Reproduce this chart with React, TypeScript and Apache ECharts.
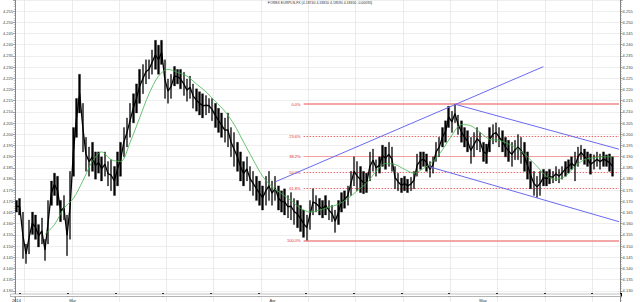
import React, { useEffect, useRef } from 'react';
import * as echarts from 'echarts';

const TITLE = 'FOREX EURPLN-FX (4.18740 4.18810 4.18590 4.18650 -0.00090)';

// 8-hour bars, Fri 21 Feb 2014 .. Wed 21 May 2014 (192 slots, 190 with data)
const BAR_COUNT = 192;

const highs = [
  4.1704, 4.1713, 4.1652, 4.1509, 4.1617, 4.1652, 4.1639, 4.1596, 4.1626, 4.1530,
  4.1704, 4.1791, 4.1826, 4.1812, 4.1704, 4.1726, 4.1639, 4.1834, 4.2030, 4.2160,
  4.2268, 4.2138, 4.1986, 4.1943, 4.1964, 4.1921, 4.1921, 4.1899, 4.1921, 4.1878,
  4.1886, 4.1856, 4.1921, 4.1964, 4.2030, 4.2073, 4.2138, 4.2181, 4.2225, 4.2290,
  4.2312, 4.2333, 4.2333, 4.2377, 4.2420, 4.2398, 4.2420, 4.2333, 4.2247, 4.2268,
  4.2303, 4.2290, 4.2290, 4.2277, 4.2247, 4.2260, 4.2225, 4.2203, 4.2190, 4.2181,
  4.2173, 4.2160, 4.2160, 4.2138, 4.2116, 4.2095, 4.2073, 4.2095, 4.2030, 4.2008,
  4.1964, 4.1921, 4.1878, 4.1899, 4.1856, 4.1834, 4.1812, 4.1791, 4.1769, 4.1812,
  4.1834, 4.1791, 4.1812, 4.1769, 4.1747, 4.1756, 4.1726, 4.1739, 4.1713, 4.1704,
  4.1682, 4.1661, 4.1639, 4.1704, 4.1756, 4.1726, 4.1713, 4.1704, 4.1726, 4.1704,
  4.1682, 4.1661, 4.1704, 4.1739, 4.1747, 4.1769, 4.1834, 4.1899, 4.1878, 4.1856,
  4.1834, 4.1826, 4.1921, 4.1934, 4.1886, 4.1899, 4.1951, 4.1943, 4.1964, 4.1943,
  4.1856, 4.1826, 4.1804, 4.1812, 4.1799, 4.1808, 4.1834, 4.1912, 4.1921, 4.1921,
  4.1912, 4.1878, 4.1899, 4.1964, 4.1986, 4.2030, 4.2060, 4.2125, 4.2103, 4.2134,
  4.2086, 4.2060, 4.2030, 4.2016, 4.1986, 4.2008, 4.2030, 4.2008, 4.1964, 4.1956,
  4.2030, 4.2043, 4.2051, 4.2030, 4.2016, 4.1986, 4.1973, 4.1964, 4.1973, 4.1999,
  4.1986, 4.1964, 4.1921, 4.1878, 4.1834, 4.1812, 4.1834, 4.1843, 4.1834, 4.1843,
  4.1834, 4.1856, 4.1843, 4.1856, 4.1878, 4.1886, 4.1899, 4.1921, 4.1943, 4.1951,
  4.1934, 4.1921, 4.1912, 4.1908, 4.1921, 4.1912, 4.1921, 4.1908, 4.1912, 4.1899,
];

const lows = [
  4.1652, 4.1639, 4.1444, 4.1422, 4.1465, 4.1552, 4.1530, 4.1496, 4.1509, 4.1435,
  4.1509, 4.1682, 4.1726, 4.1682, 4.1609, 4.1617, 4.1457, 4.1530, 4.1812, 4.1986,
  4.2095, 4.1921, 4.1834, 4.1812, 4.1834, 4.1799, 4.1826, 4.1791, 4.1812, 4.1769,
  4.1747, 4.1726, 4.1769, 4.1812, 4.1899, 4.1943, 4.1986, 4.2051, 4.2095, 4.2138,
  4.2181, 4.2225, 4.2247, 4.2268, 4.2290, 4.2268, 4.2312, 4.2160, 4.2138, 4.2160,
  4.2216, 4.2225, 4.2203, 4.2173, 4.2147, 4.2160, 4.2116, 4.2103, 4.2086, 4.2073,
  4.2086, 4.2095, 4.2060, 4.2030, 4.2008, 4.1986, 4.1964, 4.1943, 4.1899, 4.1856,
  4.1834, 4.1791, 4.1769, 4.1791, 4.1747, 4.1726, 4.1704, 4.1682, 4.1661, 4.1682,
  4.1704, 4.1682, 4.1704, 4.1661, 4.1652, 4.1639, 4.1626, 4.1617, 4.1596, 4.1582,
  4.1565, 4.1539, 4.1526, 4.1574, 4.1639, 4.1652, 4.1639, 4.1626, 4.1639, 4.1617,
  4.1609, 4.1561, 4.1596, 4.1652, 4.1669, 4.1682, 4.1726, 4.1769, 4.1747, 4.1739,
  4.1734, 4.1739, 4.1791, 4.1834, 4.1812, 4.1826, 4.1856, 4.1843, 4.1856, 4.1834,
  4.1756, 4.1747, 4.1739, 4.1747, 4.1739, 4.1747, 4.1756, 4.1812, 4.1843, 4.1856,
  4.1834, 4.1808, 4.1826, 4.1878, 4.1899, 4.1943, 4.1964, 4.2030, 4.2008, 4.2051,
  4.1999, 4.1964, 4.1943, 4.1921, 4.1869, 4.1899, 4.1930, 4.1921, 4.1878, 4.1869,
  4.1921, 4.1956, 4.1964, 4.1943, 4.1921, 4.1899, 4.1878, 4.1856, 4.1886, 4.1886,
  4.1869, 4.1834, 4.1799, 4.1756, 4.1726, 4.1717, 4.1726, 4.1769, 4.1769, 4.1778,
  4.1782, 4.1791, 4.1782, 4.1799, 4.1812, 4.1826, 4.1843, 4.1791, 4.1856, 4.1886,
  4.1865, 4.1856, 4.1821, 4.1843, 4.1856, 4.1843, 4.1856, 4.1856, 4.1834, 4.1812,
];

// moving average, one value per trading day
const maStart = 9;
const maStep = 3;
const maValues = [
  4.1552, 4.1596, 4.1669, 4.1713, 4.1791, 4.1878, 4.1921, 4.1886, 4.1878, 4.1964,
  4.2073, 4.2181, 4.2260, 4.2290, 4.2277, 4.2260, 4.2225, 4.2190, 4.2147, 4.2103,
  4.2043, 4.1964, 4.1886, 4.1812, 4.1765, 4.1734, 4.1704, 4.1669, 4.1652, 4.1661,
  4.1674, 4.1687, 4.1713, 4.1747, 4.1782, 4.1834, 4.1869, 4.1865, 4.1843, 4.1826,
  4.1847, 4.1878, 4.1930, 4.1995, 4.2043, 4.2038, 4.2008, 4.1977, 4.1973, 4.1956,
  4.1934, 4.1899, 4.1856, 4.1812, 4.1799, 4.1812, 4.1856, 4.1886, 4.1895, 4.1899,
  4.1899,
];

const monthLabels = ['2014', 'Mar', 'Apr', 'May'];
const monthStarts = [0, 18, 81, 147];
const weekStarts = [3, 18, 33, 48, 63, 78, 93, 108, 123, 138, 153, 168, 183];

const yMin = 4.125;
const yMax = 4.26;
const yStep = 0.005;
const yLabelMin = 4.13;
const yLabelMax = 4.255;

const trendLines = [
  { from: [82, 4.1787], to: [167, 4.2302] },
  { from: [139, 4.2134], to: [191, 4.1933] },
  { from: [131, 4.1854], to: [191, 4.1609] },
];

const fibHigh = 4.2134;
const fibLow = 4.1526;
const fibRatios = [0, 0.236, 0.382, 0.5, 0.618, 1];
const fibNames = ['0.0%', '23.6%', '38.2%', '50.0%', '61.8%', '100.0%'];
const fibStart = 91;
const fibEnd = 191;

const FONT = 'Liberation Sans, Arial, sans-serif';

export default function App() {
  const ref = useRef<HTMLDivElement>(null);

  useEffect(() => {
    const chart = echarts.init(ref.current!, null, { renderer: 'svg' });
    const cats = Array.from({ length: BAR_COUNT }, (_, i) => String(i));
    const candles = highs.map((h, i) => [lows[i], h, lows[i], h]);
    // path through the middle of each bar's range, joining the bars
    const midPath = highs.map((h, i) => [i, (h + lows[i]) / 2]);
    const maData = maValues.map((v, k) => [maStart + k * maStep, v]);

    const fibStyle = (k: number) => {
      if (k === 0 || k === 5) return { color: '#f08a8a', width: 1.6, type: 'solid' };
      if (k === 2) return { color: '#f3a0a0', width: 1, type: 'solid' };
      return { color: '#e85a5a', width: 0.9, type: [1.5, 1.5] };
    };
    const fibData = fibRatios.map((r, k) => {
      const p = fibHigh - r * (fibHigh - fibLow);
      return [
        { coord: [fibStart, p], name: fibNames[k], lineStyle: fibStyle(k) },
        { coord: [fibEnd, p] },
      ];
    });

    const yAxisBase = {
      type: 'value',
      gridIndex: 0,
      min: yMin,
      max: yMax,
      interval: yStep,
      axisLine: { show: true, lineStyle: { color: '#666', width: 0.8 } },
      axisTick: { show: true, length: 2, lineStyle: { color: '#666', width: 0.6 } },
      minorTick: { show: true, splitNumber: 5, length: 1.2, lineStyle: { color: '#888', width: 0.5 } },
      axisLabel: {
        fontSize: 4,
        margin: 2,
        color: '#444',
        fontFamily: FONT,
        showMinLabel: false,
        showMaxLabel: false,
        formatter: (v: number) =>
          v < yLabelMin - 1e-6 || v > yLabelMax + 1e-6 ? '' : v.toFixed(3),
      },
    };

    const option: any = {
      animation: false,
      backgroundColor: '#fff',
      textStyle: { fontFamily: FONT },
      title: {
        text: TITLE,
        left: 'center',
        top: 1,
        padding: 0,
        textStyle: { fontSize: 3.5, fontWeight: 'normal', color: '#333', fontFamily: FONT },
      },
      grid: [
        { left: 10.5, right: 19.4, top: -6.52, bottom: -2.52 },
        {
          left: 10.5,
          right: 19.4,
          top: 294,
          height: 3.5,
          show: true,
          borderColor: '#999',
          borderWidth: 0.6,
          backgroundColor: '#fff',
          z: 5,
        },
      ],
      xAxis: [
        {
          type: 'category',
          gridIndex: 0,
          data: cats,
          boundaryGap: true,
          axisLine: { show: false },
          axisTick: { show: false },
          axisLabel: { show: false },
          splitLine: {
            show: true,
            interval: (i: number) => weekStarts.includes(i),
            lineStyle: { color: '#e2e2e2', width: 0.7 },
          },
        },
        {
          type: 'category',
          gridIndex: 1,
          data: cats,
          boundaryGap: true,
          axisLine: { show: true, lineStyle: { color: '#888', width: 0.6 } },
          axisTick: {
            show: true,
            inside: true,
            length: 3.5,
            interval: (i: number) => weekStarts.includes(i),
            lineStyle: { color: '#000', width: 2 },
          },
          axisLabel: {
            show: true,
            fontSize: 4,
            margin: 1.5,
            align: 'left',
            color: '#333',
            fontFamily: FONT,
            interval: (i: number) => monthStarts.includes(i),
            formatter: (_v: string, i: number) => {
              const k = monthStarts.indexOf(i);
              return k >= 0 ? monthLabels[k] : '';
            },
          },
          splitLine: { show: false },
        },
      ],
      yAxis: [
        {
          ...yAxisBase,
          position: 'left',
          splitLine: { show: true, lineStyle: { color: '#e6e6e6', width: 0.7 } },
        },
        {
          ...yAxisBase,
          position: 'right',
          splitLine: { show: false },
        },
        { type: 'value', gridIndex: 1, show: false, min: 0, max: 1 },
      ],
      series: [
        {
          type: 'candlestick',
          xAxisIndex: 0,
          yAxisIndex: 0,
          data: candles,
          barWidth: 2,
          itemStyle: {
            color: '#000',
            color0: '#000',
            borderColor: '#000',
            borderColor0: '#000',
            borderWidth: 0.3,
          },
          silent: true,
          z: 3,
        },
        {
          type: 'line',
          xAxisIndex: 0,
          yAxisIndex: 0,
          data: midPath,
          symbol: 'none',
          lineStyle: { color: '#000', width: 1.3 },
          silent: true,
          z: 3,
        },
        {
          type: 'line',
          xAxisIndex: 0,
          yAxisIndex: 0,
          data: maData,
          symbol: 'none',
          smooth: 0.3,
          lineStyle: { color: '#3fb54a', width: 0.8 },
          silent: true,
          z: 4,
          markLine: {
            silent: true,
            symbol: ['none', 'none'],
            label: {
              show: true,
              position: 'start',
              distance: 3,
              formatter: '{b}',
              fontSize: 4,
              color: '#e03030',
              fontFamily: FONT,
            },
            data: fibData,
            z: 2,
          },
        },
        ...trendLines.map((t) => ({
          type: 'line',
          xAxisIndex: 0,
          yAxisIndex: 0,
          data: [t.from, t.to],
          symbol: 'none',
          lineStyle: { color: '#6a6af0', width: 1 },
          silent: true,
          z: 5,
        })),
      ],
    };

    chart.setOption(option);
    return () => chart.dispose();
  }, []);

  return (
    <div
      ref={ref}
      style={{ position: 'fixed', left: 0, top: 0, width: 640, height: 302, background: '#fff' }}
    />
  );
}
